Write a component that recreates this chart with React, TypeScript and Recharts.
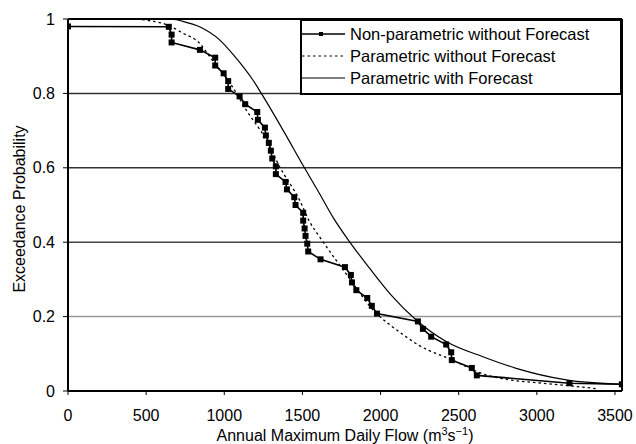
import React from "react";
import { LineChart, Line, XAxis, YAxis, ReferenceLine, Legend, Label } from "recharts";

// Non-parametric without Forecast (empirical points)
const npFlow = [0, 645, 663, 663, 844, 942, 942, 996, 1025, 1025, 1098, 1134, 1211, 1215, 1260, 1266, 1285, 1298, 1307, 1330, 1330, 1392, 1401, 1448, 1456, 1505, 1505, 1514, 1520, 1531, 1537, 1616, 1772, 1810, 1817, 1845, 1915, 1944, 1977, 2239, 2271, 2324, 2420, 2452, 2456, 2584, 2616, 3209, 3544];
const npProb = [0.98, 0.979, 0.958, 0.937, 0.917, 0.896, 0.875, 0.854, 0.833, 0.812, 0.792, 0.771, 0.75, 0.729, 0.708, 0.687, 0.667, 0.646, 0.625, 0.604, 0.583, 0.562, 0.542, 0.521, 0.5, 0.479, 0.458, 0.437, 0.417, 0.396, 0.375, 0.354, 0.333, 0.312, 0.292, 0.271, 0.25, 0.229, 0.208, 0.187, 0.167, 0.146, 0.125, 0.104, 0.083, 0.062, 0.042, 0.021, 0.018];

// Parametric without Forecast
const pFlow = [440, 530, 629, 735, 842, 906, 1055, 1141, 1269, 1354, 1482, 1546, 1609, 1706, 1781, 1977, 2047, 2110, 2249, 2462, 2676, 2825, 3038, 3209, 3390];
const pProb = [1.0, 0.995, 0.985, 0.962, 0.935, 0.899, 0.816, 0.755, 0.675, 0.603, 0.513, 0.455, 0.415, 0.357, 0.314, 0.207, 0.182, 0.162, 0.122, 0.083, 0.043, 0.03, 0.021, 0.014, 0.006];

// Parametric with Forecast
const fFlow = [550, 695, 714, 842, 970, 1060, 1183, 1237, 1375, 1513, 1609, 1700, 1802, 1930, 2068, 2228, 2420, 2655, 2868, 3188, 3544];
const fProb = [1.0, 0.998, 0.996, 0.979, 0.944, 0.903, 0.836, 0.8, 0.702, 0.6, 0.531, 0.464, 0.401, 0.33, 0.258, 0.191, 0.133, 0.092, 0.061, 0.03, 0.018];

const xTicks = [0, 500, 1000, 1500, 2000, 2500, 3000, 3500];
const yTicks = [0, 0.2, 0.4, 0.6, 0.8, 1];
const gridLevels = [0.2, 0.4, 0.6, 0.8];
const gridColors = ["#999", "#444", "#333", "#333"];
const seriesNames = ["Non-parametric without Forecast", "Parametric without Forecast", "Parametric with Forecast"];
const X_MAX = 3545;

const npData = npFlow.map((x, i) => ({ x, y: npProb[i] }));
const pData = pFlow.map((x, i) => ({ x, y: pProb[i] }));
const fData = fFlow.map((x, i) => ({ x, y: fProb[i] }));

const FONT = "'Liberation Sans', Arial, sans-serif";

const SquareDot = (props: any) => {
  const { cx, cy, index } = props;
  if (cx == null || cy == null) return null;
  return <rect key={`d-${index}`} x={cx - 3} y={cy - 3} width={6} height={6} fill="#000" />;
};

const renderLegend = () => (
  <svg width={322} height={76} style={{ display: "block" }}>
    <rect x={1} y={1} width={320} height={74} fill="#fff" stroke="#000" strokeWidth={2} />
    <line x1={2} x2={45} y1={15} y2={15} stroke="#000" strokeWidth={1.6} />
    <rect x={19} y={13} width={4} height={4} fill="#000" />
    <line x1={2} x2={45} y1={37} y2={37} stroke="#000" strokeWidth={1.2} strokeDasharray="2.5 3" />
    <line x1={2} x2={45} y1={59} y2={59} stroke="#000" strokeWidth={1.1} />
    <text x={50} y={21} fontSize={16.5} fontFamily={FONT} fill="#000">{seriesNames[0]}</text>
    <text x={50} y={43} fontSize={16.5} fontFamily={FONT} fill="#000">{seriesNames[1]}</text>
    <text x={50} y={65} fontSize={16.5} fontFamily={FONT} fill="#000">{seriesNames[2]}</text>
  </svg>
);

const XLabel = () => (
  <text x={345} y={441} textAnchor="middle" fontSize={16} fontFamily={FONT} fill="#000">
    Annual Maximum Daily Flow (m
    <tspan dy={-6} fontSize={11}>3</tspan>
    <tspan dy={6}>s</tspan>
    <tspan dy={-6} fontSize={11}>−1</tspan>
    <tspan dy={6}>)</tspan>
  </text>
);

const YLabel = () => (
  <text x={25} y={209} transform="rotate(-90 25 209)" textAnchor="middle" fontSize={16} fontFamily={FONT} fill="#000">
    Exceedance Probability
  </text>
);

export default function App() {
  return (
    <div style={{ position: "absolute", left: 0, top: 0, width: 636, height: 444, background: "#fff" }}>
      <LineChart width={636} height={444} margin={{ top: 19, right: 14, bottom: 0, left: 0 }}>
        <XAxis
          type="number"
          dataKey="x"
          domain={[0, X_MAX]}
          ticks={xTicks}
          allowDataOverflow
          height={53}
          axisLine={{ stroke: "#000", strokeWidth: 2 }}
          tickLine={{ stroke: "#000", strokeWidth: 1 }}
          tickSize={4}
          tickMargin={15}
          tick={{ fill: "#000", fontSize: 16, fontFamily: FONT }}
        >
          <Label content={<XLabel />} />
        </XAxis>
        <YAxis
          type="number"
          domain={[0, 1]}
          ticks={yTicks}
          width={68}
          axisLine={{ stroke: "#000", strokeWidth: 2 }}
          tickLine={{ stroke: "#000", strokeWidth: 1 }}
          tickSize={5}
          tickMargin={8}
          tick={{ fill: "#000", fontSize: 16, fontFamily: FONT }}
          tickFormatter={(v: number) => String(v)}
        >
          <Label content={<YLabel />} />
        </YAxis>
        {gridLevels.map((g, i) => (
          <ReferenceLine key={g} y={g} stroke={gridColors[i]} strokeWidth={1.5} />
        ))}
        <ReferenceLine y={1} stroke="#000" strokeWidth={2} />
        <ReferenceLine x={X_MAX} stroke="#000" strokeWidth={2} />
        <Line
          data={pData}
          dataKey="y"
          type="monotone"
          stroke="#000"
          strokeWidth={1.3}
          strokeDasharray="2.5 3"
          dot={false}
          isAnimationActive={false}
          name={seriesNames[1]}
        />
        <Line
          data={fData}
          dataKey="y"
          type="monotone"
          stroke="#000"
          strokeWidth={1.2}
          dot={false}
          isAnimationActive={false}
          name={seriesNames[2]}
        />
        <Line
          data={npData}
          dataKey="y"
          type="linear"
          stroke="#000"
          strokeWidth={1.6}
          dot={<SquareDot />}
          isAnimationActive={false}
          name={seriesNames[0]}
        />
        <Legend
          layout="vertical"
          align="center"
          verticalAlign="middle"
          content={renderLegend}
          wrapperStyle={{ left: 300, top: 19, width: 322, height: 76 }}
        />
      </LineChart>
    </div>
  );
}
